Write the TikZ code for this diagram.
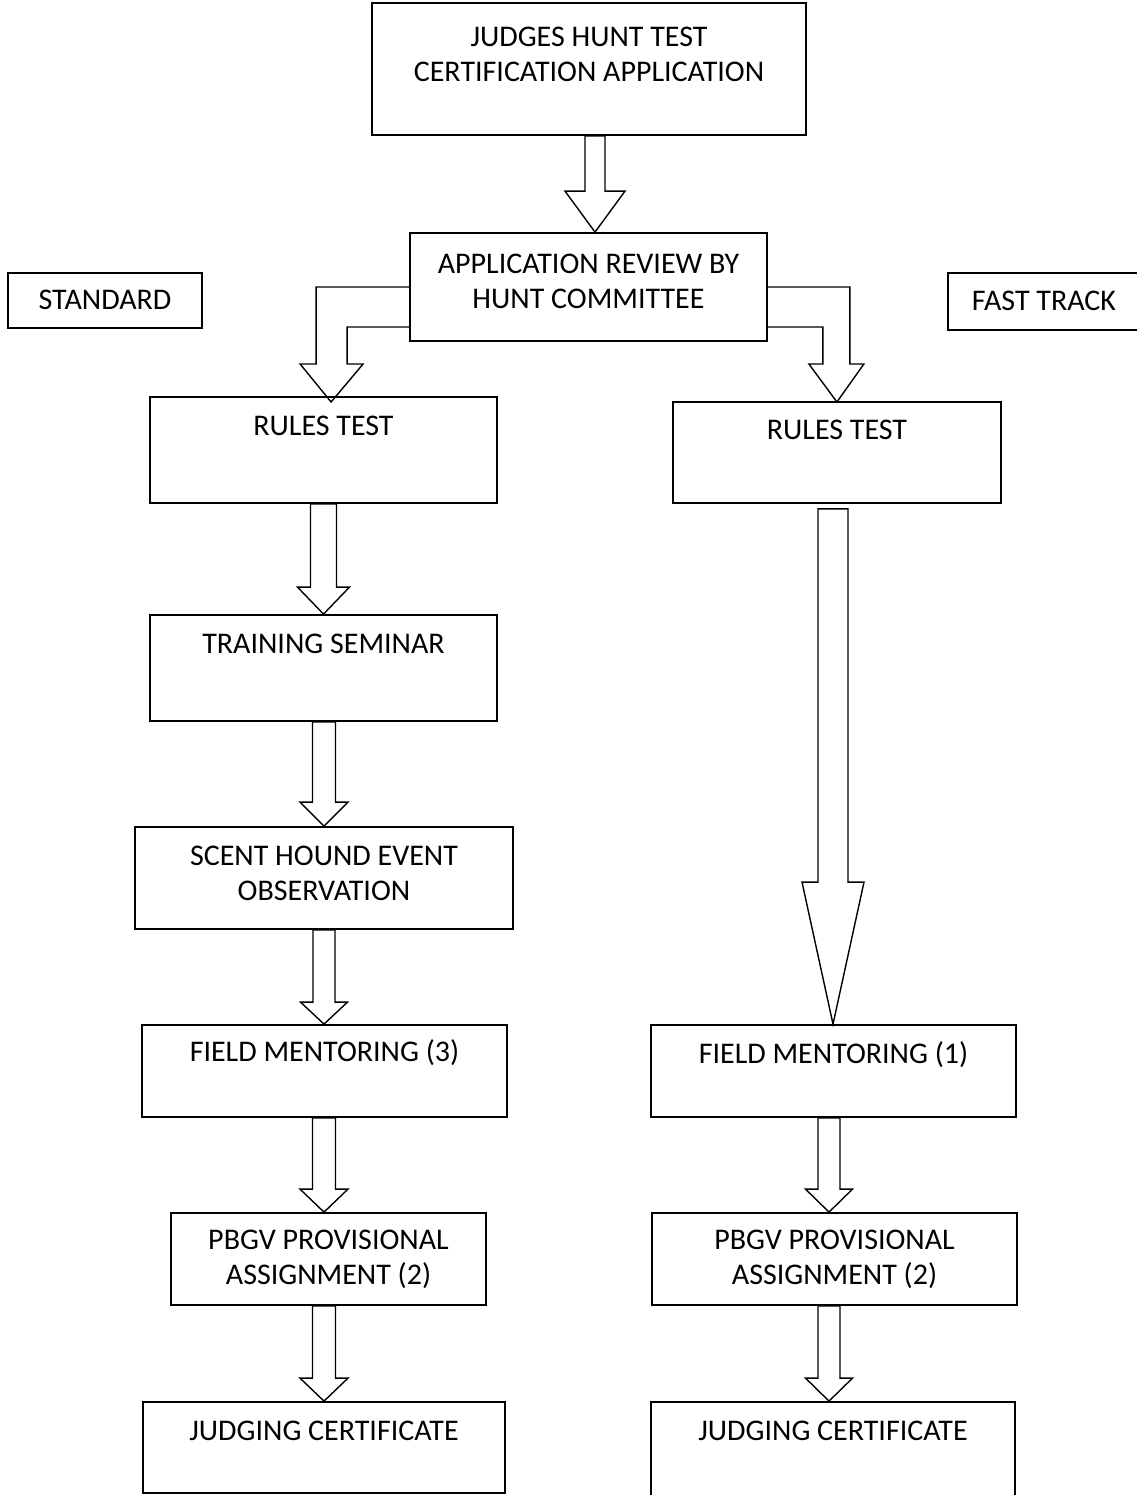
\documentclass[tikz,border=0pt]{standalone}
\usepackage{fontspec}
\setmainfont{Carlito}
\usetikzlibrary{calc,fit}

\tikzset{
  box/.style={draw, line width=1.8pt, inner sep=0pt},
  lbl/.style={font=\fontsize{30}{35}\selectfont, align=center, inner sep=0pt},
  arr/.style={draw, line width=1.4pt, line join=miter},
}

\begin{document}
\begin{tikzpicture}[x=1pt,y=-1pt]
  \useasboundingbox (0,0) rectangle (1136,1495);

  % boxes: name / corners / text offset from top / text
  \foreach \n/\xa/\ya/\xb/\yb/\ty/\txt in {
      title/372/3/806/135/52/{JUDGES HUNT TEST\\CERTIFICATION APPLICATION},
      review/410/233/767/341/49/{APPLICATION REVIEW BY\\HUNT COMMITTEE},
      std/8/273/202/328/28/{STANDARD},
      fast/948/273/1140/330/29/{FAST TRACK},
      rulesL/150/397/497/503/30/{RULES TEST},
      rulesR/673/402/1001/503/29/{RULES TEST},
      trainL/150/615/497/721/30/{TRAINING SEMINAR},
      scentL/135/827/513/929/47/{SCENT HOUND EVENT\\OBSERVATION},
      fieldL/142/1025/507/1117/28/{FIELD MENTORING (3)},
      fieldR/651/1025/1016/1117/30/{FIELD MENTORING (1)},
      pbgvL/171/1213/486/1305/47.5/{PBGV PROVISIONAL\\ASSIGNMENT (2)},
      pbgvR/652/1213/1017/1305/47.5/{PBGV PROVISIONAL\\ASSIGNMENT (2)},
      judgeL/143/1402/505/1493/30/{JUDGING CERTIFICATE},
      judgeR/651/1402/1015/1505/30/{JUDGING CERTIFICATE}} {
    \node[box, fit={(\xa,\ya) (\xb,\yb)}] (\n) {};
    \node[lbl] (\n-txt) at ($(\n.north)+(0,\ty)$) {\txt};
  }

  % straight block arrows: from / to / tip shift / gap / shaft / head / head length
  \foreach \src/\dst/\dx/\gap/\sw/\hw/\hl in {
      title/review/6.5/0/10/30/41,
      rulesL/trainL/0/0/13/26/27,
      trainL/scentL/0/0/11.5/24/24,
      scentL/fieldL/-0.5/0/11/23.5/22,
      fieldL/pbgvL/-4.5/0/11.5/24/23,
      pbgvL/judgeL/0/0/11.5/24/23,
      rulesR/fieldR/-0.5/5/15/31/142,
      fieldR/pbgvR/-5.5/0/11/23.5/23,
      pbgvR/judgeR/-4/0/11/23.5/23} {
    \draw[arr] let \p1=($(\src.south)+(0,\gap)$), \p2=($(\dst.north)+(\dx,0)$) in
      (\x2-\sw*1pt,\y1) -- (\x2-\sw*1pt,\y2+\hl*1pt) -- (\x2-\hw*1pt,\y2+\hl*1pt)
      -- (\p2) -- (\x2+\hw*1pt,\y2+\hl*1pt) -- (\x2+\sw*1pt,\y2+\hl*1pt) -- (\x2+\sw*1pt,\y1)
      -- cycle;
  }

  % bent arrows out of the review box
  \draw[arr] (review.west) -- ++(-93,0) -- ++(0,77) -- ++(-16,0) -- ++(31,38)
    -- ++(32,-38) -- ++(-16,0) -- ++(0,-37) -- ++(62,0);
  \draw[arr] (review.east) -- ++(82,0) -- ++(0,77) -- ++(14,0) -- ++(-27,38)
    -- ++(-28,-38) -- ++(14,0) -- ++(0,-37) -- ++(-55,0);
\end{tikzpicture}
\end{document}
